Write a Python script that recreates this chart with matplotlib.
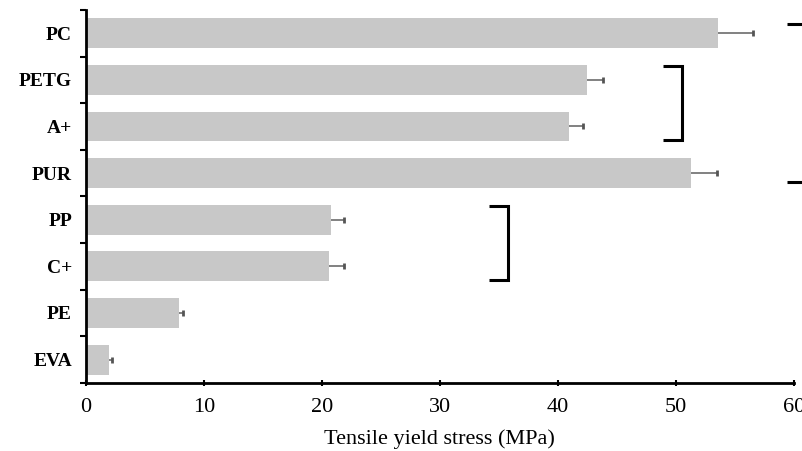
import matplotlib.pyplot as plt
import numpy as np

materials = ["PC", "PETG", "A+", "PUR", "PP", "C+", "PE", "EVA"]
yield_stress = [53.6, 42.5, 40.9, 51.3, 20.8, 20.6, 7.9, 2.0]
yield_err = [2.9, 1.3, 1.2, 2.2, 1.1, 1.3, 0.3, 0.25]

# significance brackets: (x start, x end, first category, last category)
brackets = [(48.9, 50.5, 1, 2), (34.2, 35.8, 4, 5)]
big_bracket = (59.4, 0, 3)

plt.rcParams["font.family"] = ["Liberation Serif", "DejaVu Serif"]

fig = plt.figure(figsize=(8.02, 4.51), dpi=100)
ax = fig.add_axes([0.107, 0.151, 0.883, 0.827])

y = np.arange(len(materials))
tops = np.array(yield_stress) + np.array(yield_err)
ax.barh(y, yield_stress, height=0.64, color="#c8c8c8", zorder=2)
ax.hlines(y, yield_stress, tops, color="#777777", linewidth=1.3, zorder=3)
ax.plot(tops, y, linestyle="none", marker="|", markersize=5, markeredgewidth=2.0,
        color="#555555", zorder=3)

for x0, x1, a, b in brackets:
    ya, yb = a - 0.3, b + 0.3
    ax.plot([x0, x1, x1, x0], [ya, ya, yb, yb], color="black", linewidth=2.2,
            solid_capstyle="butt", solid_joinstyle="miter", zorder=4)

bx, ba, bb = big_bracket
for yy in (ba - 0.2, bb + 0.2):
    ax.plot([bx, 61.0], [yy, yy], color="black", linewidth=2.2,
            solid_capstyle="butt", clip_on=False, zorder=4)

ax.set_xlim(0, 60)
ax.set_ylim(len(materials) - 0.5, -0.5)
ax.set_xticks(np.arange(0, 61, 10))
ax.set_yticks(y)
ax.set_yticklabels(materials, fontweight="bold")
ax.set_yticks(np.arange(-0.5, len(materials), 1.0), minor=True)
ax.tick_params(axis="y", which="major", length=0, labelsize=14, pad=10)
ax.tick_params(axis="y", which="minor", length=4, width=1.5, direction="out")
ax.tick_params(axis="x", which="major", length=4, width=1.5, direction="inout",
               labelsize=16, pad=9)
ax.set_xlabel("Tensile yield stress (MPa)", fontsize=16, labelpad=9)

for side in ("top", "right"):
    ax.spines[side].set_visible(False)
for side in ("left", "bottom"):
    ax.spines[side].set_linewidth(2.0)

fig.savefig("out.png", dpi=100)
